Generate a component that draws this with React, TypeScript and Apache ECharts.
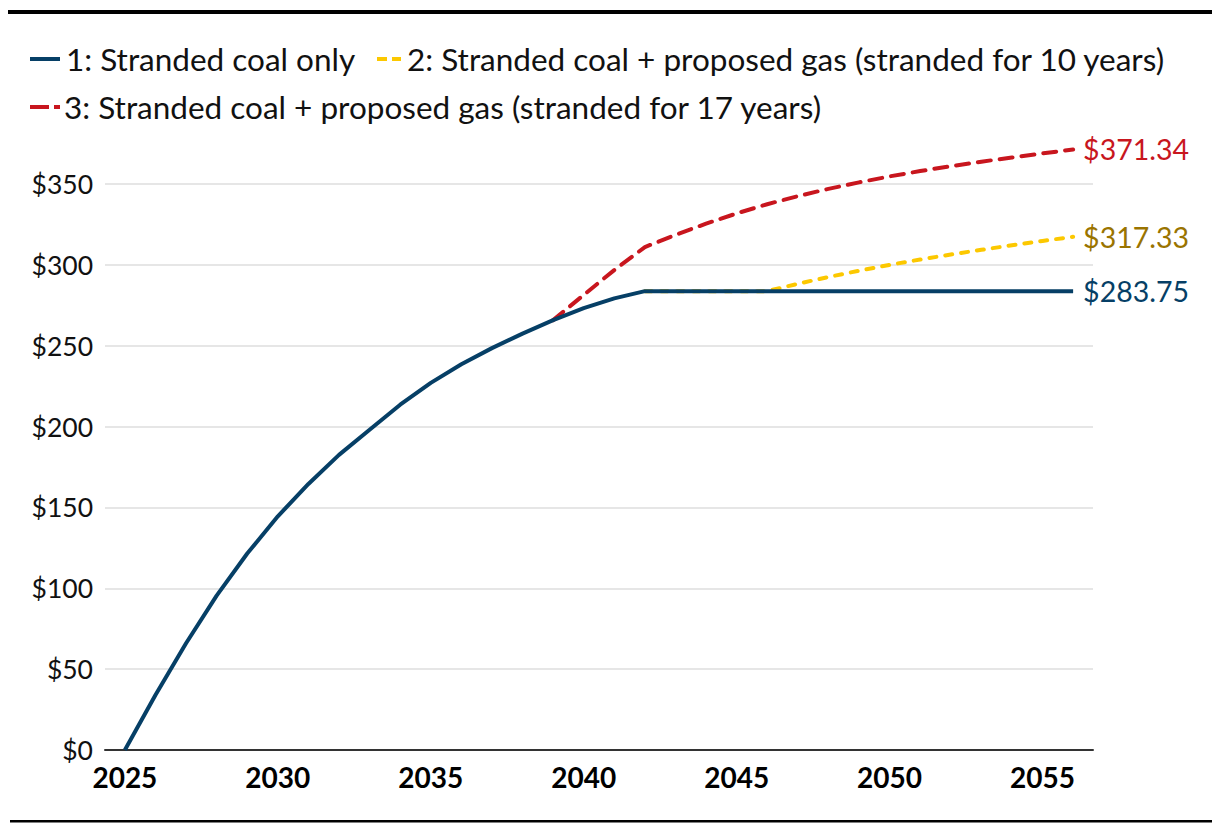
import React, { useEffect, useRef } from "react";
import * as echarts from "echarts";

const years = [2025, 2026, 2027, 2028, 2029, 2030, 2031, 2032, 2033, 2034, 2035, 2036, 2037, 2038, 2039, 2040, 2041, 2042, 2043, 2044, 2045, 2046, 2047, 2048, 2049, 2050, 2051, 2052, 2053, 2054, 2055, 2056];

const coalOnly = [0, 34, 66, 95.5, 121.5, 144.5, 164.5, 182.5, 198, 213.5, 227, 238.5, 248.5, 257.5, 265.8, 273.3, 279.3, 283.75, 283.75, 283.75, 283.75, 283.75, 283.75, 283.75, 283.75, 283.75, 283.75, 283.75, 283.75, 283.75, 283.75, 283.75];

const gas10 = [null, null, null, null, null, null, null, null, null, null, null, null, null, null, null, null, null, 283.75, 283.75, 283.75, 283.75, 283.75, 288.3, 292.5, 296.4, 300, 303.3, 306.4, 309.3, 312.1, 314.8, 317.33];

const gas17 = [null, null, null, null, null, null, null, null, null, null, null, null, null, null, 265.8, 281.4, 296.8, 311, 318.5, 325.5, 331.8, 337.5, 342.5, 347, 351, 354.7, 358, 361, 363.8, 366.4, 368.9, 371.34];

const xTickLabels = [2025, 2030, 2035, 2040, 2045, 2050, 2055];
const yTickValues = [0, 50, 100, 150, 200, 250, 300, 350];

const seriesNames = [
  "1: Stranded coal only",
  "2: Stranded coal + proposed gas (stranded for 10 years)",
  "3: Stranded coal + proposed gas (stranded for 17 years)",
];

const COLORS = { coal: "#063f66", gas10: "#fcc800", gas10Text: "#9a7400", gas17: "#c8161e" };
const FONT = "Lato";

function pairs(vals: (number | null)[]) {
  return years.map((y, i) => [y, vals[i]]);
}

export default function App() {
  const ref = useRef<HTMLDivElement>(null);
  useEffect(() => {
    document.body.style.margin = "0";
    if (!ref.current) return;
    const chart = echarts.init(ref.current, undefined, { renderer: "svg" });
    const endLabel = (color: string) => ({
      show: true,
      formatter: (p: any) => "$" + Number(p.value[1]).toFixed(2),
      color,
      fontFamily: FONT,
      fontSize: 28.5,
      distance: 10,
    });
    const legendText = (text: string, x: number, y: number) => ({
      type: "text",
      x,
      y,
      style: { text, fill: "#111", font: `31.5px ${FONT}`, verticalAlign: "middle", align: "left" },
    });
    const legendLine = (x1: number, x2: number, y: number, color: string, dash?: number[]) => ({
      type: "line",
      shape: { x1, y1: y, x2, y2: y },
      style: { stroke: color, lineWidth: 4, lineDash: dash || null },
    });
    chart.setOption({
      animation: false,
      backgroundColor: "#ffffff",
      textStyle: { fontFamily: FONT },
      grid: { left: 105, right: 127, top: 184, bottom: 84, containLabel: false },
      xAxis: {
        type: "value",
        min: 2024.35,
        max: 2056.65,
        axisLine: { show: true, lineStyle: { color: "#333", width: 2 } },
        axisTick: { show: false },
        splitLine: { show: false },
        axisLabel: {
          customValues: xTickLabels,
          formatter: (v: number) => String(v),
          fontFamily: FONT,
          fontWeight: "bold",
          fontSize: 28,
          color: "#000",
          margin: 13,
        },
      },
      yAxis: {
        type: "value",
        min: 0,
        max: 350,
        interval: 50,
        axisLine: { show: false },
        axisTick: { show: false },
        splitLine: { show: true, lineStyle: { color: "#e6e6e6", width: 2 } },
        axisLabel: {
          formatter: (v: number) => (yTickValues.includes(v) ? "$" + v : ""),
          fontFamily: FONT,
          fontSize: 26.5,
          color: "#111",
          margin: 12,
        },
      },
      series: [
        {
          name: seriesNames[2],
          type: "line",
          data: pairs(gas17),
          symbol: "none",
          clip: false,
          lineStyle: { color: COLORS.gas17, width: 4, type: [13, 9], cap: "round" },
          itemStyle: { color: COLORS.gas17 },
          endLabel: endLabel(COLORS.gas17),
          z: 2,
        },
        {
          name: seriesNames[1],
          type: "line",
          data: pairs(gas10),
          symbol: "none",
          clip: false,
          lineStyle: { color: COLORS.gas10, width: 4, type: [7, 9], cap: "round" },
          itemStyle: { color: COLORS.gas10 },
          endLabel: endLabel(COLORS.gas10Text),
          z: 3,
        },
        {
          name: seriesNames[0],
          type: "line",
          data: pairs(coalOnly),
          symbol: "none",
          clip: false,
          lineStyle: { color: COLORS.coal, width: 4 },
          itemStyle: { color: COLORS.coal },
          endLabel: endLabel(COLORS.coal),
          z: 4,
        },
      ],
      graphic: [
        { type: "rect", shape: { x: 8, y: 10, width: 1204, height: 4 }, style: { fill: "#000" } },
        { type: "rect", shape: { x: 10, y: 820, width: 1202, height: 2.5 }, style: { fill: "#000" } },
        legendLine(30, 60, 59, COLORS.coal),
        legendText(seriesNames[0], 66, 59),
        legendLine(377, 401, 59, COLORS.gas10, [10, 5]),
        legendText(seriesNames[1], 407, 59),
        legendLine(30, 60, 107, COLORS.gas17, [19, 5]),
        legendText(seriesNames[2], 64, 107),
      ],
    });
    return () => chart.dispose();
  }, []);
  return <div ref={ref} style={{ width: 1220, height: 834 }} />;
}
